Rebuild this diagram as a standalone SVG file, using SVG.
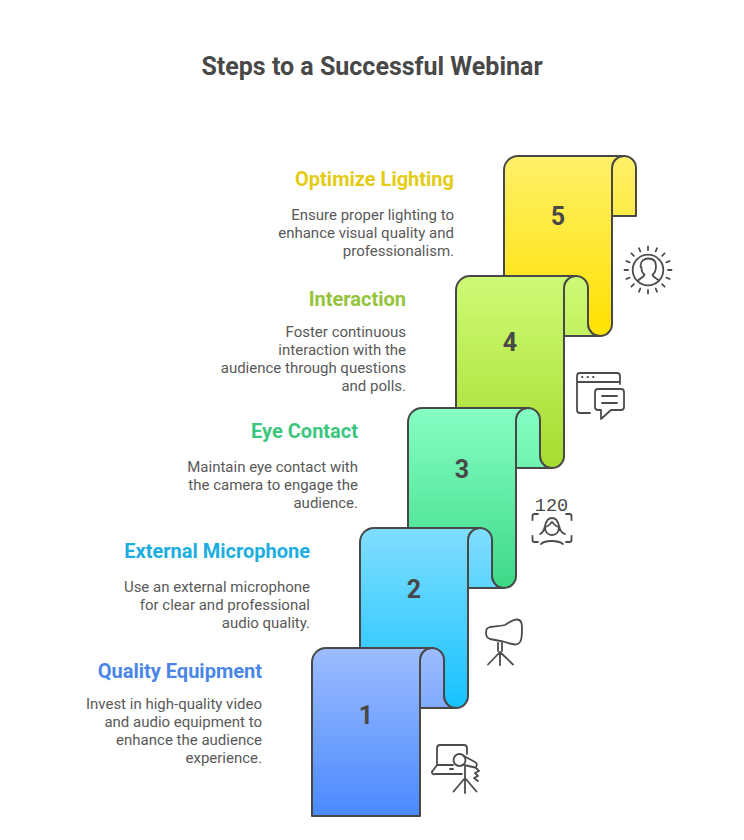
<svg xmlns="http://www.w3.org/2000/svg" width="744" height="840" viewBox="0 0 744 840">
<style>
.s{stroke:#484848;stroke-width:2;stroke-linejoin:round}
.i{fill:none;stroke:#4c4c4c;stroke-width:1.8;stroke-linecap:round;stroke-linejoin:round}
text{font-family:Roboto,"Liberation Sans",sans-serif}
.t{font-size:25px;font-weight:700;fill:#484848;text-anchor:middle}
.n{font-size:25px;font-weight:700;fill:#484848;text-anchor:middle}
.h{font-size:20px;font-weight:700;text-anchor:end}
.b{font-size:15px;fill:#595959;text-anchor:end}
</style>
<defs>
<linearGradient id="g5" gradientUnits="userSpaceOnUse" x1="0" y1="156" x2="0" y2="336"><stop offset="0" stop-color="#FFF06A"/><stop offset="1" stop-color="#FFE100"/></linearGradient>
<linearGradient id="g4" gradientUnits="userSpaceOnUse" x1="0" y1="276" x2="0" y2="468"><stop offset="0" stop-color="#CFFA76"/><stop offset="1" stop-color="#A6DC2E"/></linearGradient>
<linearGradient id="g3" gradientUnits="userSpaceOnUse" x1="0" y1="408" x2="0" y2="588"><stop offset="0" stop-color="#86FFC4"/><stop offset="1" stop-color="#3DD888"/></linearGradient>
<linearGradient id="g2" gradientUnits="userSpaceOnUse" x1="0" y1="528" x2="0" y2="708"><stop offset="0" stop-color="#80DEFF"/><stop offset="1" stop-color="#17C2FF"/></linearGradient>
<linearGradient id="g1" gradientUnits="userSpaceOnUse" x1="0" y1="648" x2="0" y2="816"><stop offset="0" stop-color="#9DBCFF"/><stop offset="1" stop-color="#4A8AFF"/></linearGradient>
</defs>
<rect width="744" height="840" fill="#fff"/>
<text class="t" x="372" y="75">Steps to a Successful Webinar</text>
<g id="connectors"></g>

<g id="step-5">
<path class="s" fill="url(#g5)" d="M612 216V168A12 12 0 0 1 624 156A12 12 0 0 1 636 168V216Z"/>
<path class="s" fill="url(#g5)" d="M504 300V170A14 14 0 0 1 518 156H624A12 12 0 0 0 612 168V324A12 12 0 0 1 588 324V300Z"/>
<text class="n" x="558" y="225">5</text>
<text class="h" x="454" y="186" fill="#E3CC12">Optimize Lighting</text>
<text class="b" x="454" y="220">Ensure proper lighting to</text>
<text class="b" x="454" y="238">enhance visual quality and</text>
<text class="b" x="454" y="256">professionalism.</text>
<g class="i">
<circle cx="648" cy="270" r="15.300"/>
<path d="M648 250V246.500M648 290V293.500M668 270H671.500M628 270H624.500M662.140 255.860L664.600 253.400M662.140 284.140L664.600 286.600M633.860 284.140L631.400 286.600M633.860 255.860L631.400 253.400M655.650 251.520L657 248.300M640.350 251.520L639 248.300M655.650 288.480L657 291.700M640.350 288.480L639 291.700M666.480 262.350L669.700 261M666.480 277.650L669.700 279M629.520 262.350L626.300 261M629.520 277.650L626.300 279"/>
<path d="M638 281C639 278 644 278 644.500 274.500C642 273 641.500 270 641.500 268L640.500 266C640.500 261 644 258.500 648.500 258.500C653 258.500 656 261 656 266C656 270 655 273 652.500 274.500C653 278 657.500 278 659 281"/>
</g>
</g>

<g id="step-4">
<path class="s" fill="url(#g4)" d="M564 336H600A12 12 0 0 1 588 324V288A12 12 0 0 0 564 288Z"/>
<path class="s" fill="url(#g4)" d="M456 420V290A14 14 0 0 1 470 276H576A12 12 0 0 0 564 288V456A12 12 0 0 1 540 456V420Z"/>
<text class="n" x="510" y="351">4</text>
<text class="h" x="406" y="306" fill="#94C43A">Interaction</text>
<text class="b" x="406" y="337">Foster continuous</text>
<text class="b" x="406" y="355">interaction with the</text>
<text class="b" x="406" y="373">audience through questions</text>
<text class="b" x="406" y="391">and polls.</text>
<g class="i">
<path d="M590 413H580A3 3 0 0 1 577 410V376A3 3 0 0 1 580 373H617A3 3 0 0 1 620 376V384M577 382H620"/>
<path d="M598 389H621A3 3 0 0 1 624 392V407A3 3 0 0 1 621 410H611L601 419V410H598A3 3 0 0 1 595 407V392A3 3 0 0 1 598 389ZM602 396H617M602 403H617"/>
<path d="M582 377h.5M587.500 377h.5M593 377h.5"/>
</g>
</g>

<g id="step-3">
<path class="s" fill="url(#g3)" d="M516 468H552A12 12 0 0 1 540 456V420A12 12 0 0 0 516 420Z"/>
<path class="s" fill="url(#g3)" d="M408 550V422A14 14 0 0 1 422 408H528A12 12 0 0 0 516 420V576A12 12 0 0 1 492 576V550Z"/>
<text class="n" x="462" y="477.500">3</text>
<text class="h" x="358" y="438" fill="#3CC77F">Eye Contact</text>
<text class="b" x="358" y="472">Maintain eye contact with</text>
<text class="b" x="358" y="490">the camera to engage the</text>
<text class="b" x="358" y="508">audience.</text>
<text x="551.500" y="511" font-size="18.500" text-anchor="middle" fill="#484848" style="font-family:'Liberation Mono',monospace">120</text>
<g class="i">
<path d="M532.500 520V516A2 2 0 0 1 534.500 514H538M566 514H569.500A2 2 0 0 1 571.500 516V520M532.500 536V540A2 2 0 0 0 534.500 542H538M566 542H569.500A2 2 0 0 0 571.500 540V536"/>
<path d="M541 544C545 540 558 540 563 544M540 534C543 533 544 530 545 526C546 521 548 518 552 518C556 518 558 521 559 526C560 530 561 533 565 534M545 527C548 527 550 524 552 522C554 524 556 527 559 527M545 527C545 532 548 535 552 535C556 535 559 532 559 527"/>
</g>
</g>

<g id="step-2">
<path class="s" fill="url(#g2)" d="M468 588H504A12 12 0 0 1 492 576V540A12 12 0 0 0 468 540Z"/>
<path class="s" fill="url(#g2)" d="M360 670V542A14 14 0 0 1 374 528H480A12 12 0 0 0 468 540V696A12 12 0 0 1 444 696V670Z"/>
<text class="n" x="414" y="597.500">2</text>
<text class="h" x="310" y="558" fill="#1CAEE0">External Microphone</text>
<text class="b" x="310" y="592">Use an external microphone</text>
<text class="b" x="310" y="610">for clear and professional</text>
<text class="b" x="310" y="628">audio quality.</text>
<g class="i">
<path d="M490 627C496 626 502 626 505 625C509 623 512 619.500 517 619.500C520.500 619.500 522 622 522 627C522 632 522 637 521 640C520 643 518 644.500 515 644.500C511 644.500 507 642.500 503 641.500L490 639C487 638 486 636 486 633C486 629 487 628 490 627Z"/>
<path d="M498 643V651M502 643V651M500 652V665M500 652L488 664.500M500 652L513 664.500"/>
</g>
</g>

<g id="step-1">
<path class="s" fill="url(#g1)" d="M420 708H456A12 12 0 0 1 444 696V660A12 12 0 0 0 420 660Z"/>
<path class="s" fill="url(#g1)" d="M312 816V662A14 14 0 0 1 326 648H432A12 12 0 0 0 420 660V816Z"/>
<text class="n" x="366" y="723.500">1</text>
<text class="h" x="262" y="678" fill="#4A86E8">Quality Equipment</text>
<text class="b" x="262" y="709">Invest in high-quality video</text>
<text class="b" x="262" y="727">and audio equipment to</text>
<text class="b" x="262" y="745">enhance the audience</text>
<text class="b" x="262" y="763">experience.</text>
<g class="i">
<path d="M437 765V748A3 3 0 0 1 440 745H464A3 3 0 0 1 467 748V754M437 765L433 770.500A2 2 0 0 0 435 774H462M437 765H453M450 769H453"/>
<circle cx="459.500" cy="760" r="6"/>
<path d="M463 755.500L475 762A3 3 0 0 1 475 767.500L464 765M476 768L479 771L475 773L478 776L474 778L478 781M465 767V793M465 778L453.500 791.500M465 778L476.500 791.500"/>
</g>
</g>
</svg>
